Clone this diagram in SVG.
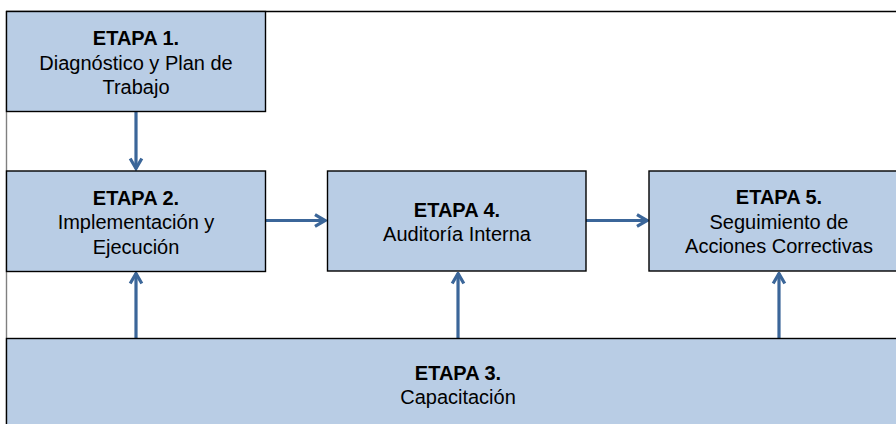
<svg xmlns="http://www.w3.org/2000/svg" width="896" height="424" viewBox="0 0 896 424">
  <style>
    .box { fill: #b9cde5; stroke: #000000; stroke-width: 1.4; }
    .t { font-family: "Liberation Sans", Arial, sans-serif; font-size: 20px; fill: #000000; text-anchor: middle; }
    .b { font-weight: bold; }
    .link { fill: none; stroke: #3b6699; stroke-width: 3.2; }
  </style>
  <defs>
    <marker id="head" viewBox="-13 -8 15 16" refX="0" refY="0" markerWidth="15" markerHeight="16" markerUnits="userSpaceOnUse" orient="auto">
      <path d="M-10,-5.8 L0,0 L-10,5.8" fill="none" stroke="#3b6699" stroke-width="3.2" stroke-linejoin="miter"/>
    </marker>
  </defs>

  <!-- page frame -->
  <g id="frame">
    <line x1="6" y1="11.5" x2="896" y2="11.5" stroke="#000000" stroke-width="1.4"/>
    <line x1="6.5" y1="11" x2="6.5" y2="424" stroke="#808080" stroke-width="1.4"/>
  </g>

  <!-- connectors -->
  <g id="connectors">
    <line class="link" x1="136" y1="112" x2="136" y2="168.5" marker-end="url(#head)"/>
    <line class="link" x1="266" y1="220.5" x2="325" y2="220.5" marker-end="url(#head)"/>
    <line class="link" x1="586" y1="220.5" x2="647" y2="220.5" marker-end="url(#head)"/>
    <line class="link" x1="136" y1="338" x2="136" y2="273.5" marker-end="url(#head)"/>
    <line class="link" x1="458" y1="338" x2="458" y2="273.5" marker-end="url(#head)"/>
    <line class="link" x1="779" y1="338" x2="779" y2="273.5" marker-end="url(#head)"/>
  </g>

  <g id="etapa1">
    <rect class="box" x="6.5" y="11.5" width="259" height="100"/>
    <text class="t b" x="136" y="44.5">ETAPA 1.</text>
    <text class="t" x="136" y="69.5">Diagnóstico y Plan de</text>
    <text class="t" x="136" y="93.5">Trabajo</text>
  </g>

  <g id="etapa2">
    <rect class="box" x="6.5" y="171" width="259" height="100.5"/>
    <text class="t b" x="136" y="204.5">ETAPA 2.</text>
    <text class="t" x="136" y="229">Implementación y</text>
    <text class="t" x="136" y="253.5">Ejecución</text>
  </g>

  <g id="etapa4">
    <rect class="box" x="327.5" y="171" width="258.5" height="100"/>
    <text class="t b" x="457" y="216.5">ETAPA 4.</text>
    <text class="t" x="457" y="241">Auditoría Interna</text>
  </g>

  <g id="etapa5">
    <rect class="box" x="649" y="171" width="260" height="100"/>
    <text class="t b" x="779" y="204">ETAPA 5.</text>
    <text class="t" x="779" y="228.5">Seguimiento de</text>
    <text class="t" x="779" y="253">Acciones Correctivas</text>
  </g>

  <g id="etapa3">
    <rect class="box" x="6.5" y="338.5" width="910" height="100"/>
    <text class="t b" x="458" y="379.5">ETAPA 3.</text>
    <text class="t" x="458" y="403.5">Capacitación</text>
  </g>
</svg>
